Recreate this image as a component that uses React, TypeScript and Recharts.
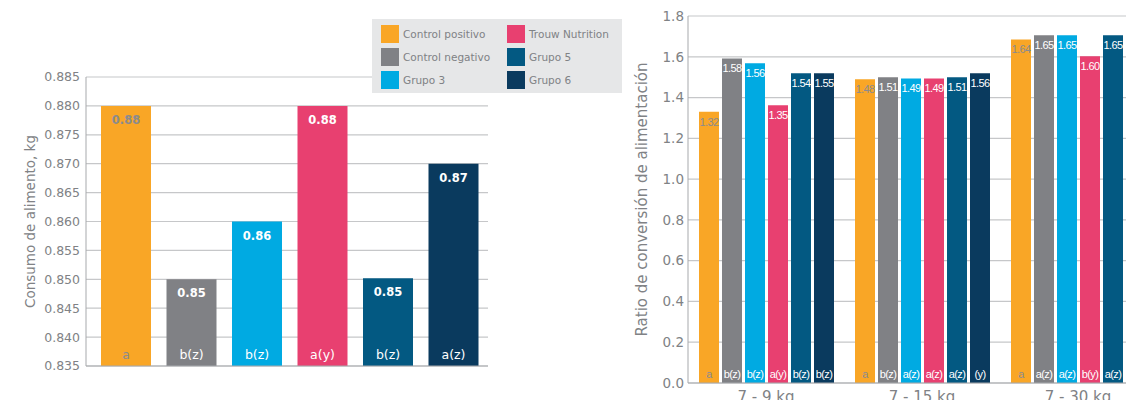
import { Bar, BarChart, CartesianGrid, Cell, LabelList, XAxis, YAxis } from "recharts";

const groups = ["Control positivo", "Control negativo", "Grupo 3", "Trouw Nutrition", "Grupo 5", "Grupo 6"];
const colors = ["#f9a626", "#808185", "#00aae2", "#e84070", "#035982", "#0a3a5e"];
const labelInk = ["#8a8b8e", "#ffffff", "#ffffff", "#ffffff", "#ffffff", "#ffffff"];

// left chart: consumo de alimento
const consumo = [0.88, 0.85, 0.86, 0.88, 0.8502, 0.87];
const consumoText = ["0.88", "0.85", "0.86", "0.88", "0.85", "0.87"];
const consumoLetters = ["a", "b(z)", "b(z)", "a(y)", "b(z)", "a(z)"];
const consumoTicks = [0.835, 0.84, 0.845, 0.85, 0.855, 0.86, 0.865, 0.87, 0.875, 0.88, 0.885];

// right chart: ratio de conversion, one array per group (3 periods)
const periods = ["7 - 9 kg", "7 - 15 kg", "7 - 30 kg"];
const ratio = [
  [1.33, 1.49, 1.685],
  [1.592, 1.5, 1.705],
  [1.568, 1.494, 1.705],
  [1.362, 1.494, 1.603],
  [1.519, 1.5, 1.705],
  [1.519, 1.519, 1.705],
];
const ratioText = [
  ["1.32", "1.48", "1.64"],
  ["1.58", "1.51", "1.65"],
  ["1.56", "1.49", "1.65"],
  ["1.35", "1.49", "1.60"],
  ["1.54", "1.51", "1.65"],
  ["1.55", "1.56", "1.65"],
];
const ratioLetters = [
  ["a", "a", "a"],
  ["b(z)", "b(z)", "a(z)"],
  ["b(z)", "a(z)", "a(z)"],
  ["a(y)", "a(z)", "b(y)"],
  ["b(z)", "a(z)", "a(z)"],
  ["b(z)", "(y)", ""],
];
const ratioTicks = [0, 0.2, 0.4, 0.6, 0.8, 1.0, 1.2, 1.4, 1.6, 1.8];

const FONT = "'DejaVu Sans', sans-serif";
const NARROW = "'Liberation Sans', Arial, sans-serif";
const GREY = "#808285";
const GRID = "#c6c7c9";

const consumoRows = groups.map((g, i) => ({
  name: g,
  value: consumo[i],
  text: consumoText[i],
  letter: consumoLetters[i],
}));

const ratioRows = periods.map((p, j) => {
  const row: Record<string, string | number> = { period: p };
  groups.forEach((_, i) => {
    row[`v${i}`] = ratio[i][j];
    row[`t${i}`] = ratioText[i][j];
    row[`l${i}`] = ratioLetters[i][j];
  });
  return row;
});

type Ink = string | ((i: number) => string);

const barText = (ink: Ink, fromTop: boolean, off: number, size: number, family: string, weight: number, spacing = 0) =>
  (props: any) => {
    const x = Number(props.x), y = Number(props.y), w = Number(props.width), h = Number(props.height);
    const fill = typeof ink === "function" ? ink(props.index) : ink;
    const ty = fromTop ? y + off : y + h - off;
    return (
      <text x={x + w / 2} y={ty} textAnchor="middle" dominantBaseline="central"
        fill={fill} fontSize={size} fontFamily={family} fontWeight={weight} letterSpacing={spacing}>
        {props.value}
      </text>
    );
  };

function Legend() {
  return (
    <div
      style={{
        position: "absolute", left: 372, top: 19, width: 250, height: 74,
        background: "#e6e7e8", boxSizing: "border-box", padding: "6px 0 0 9px",
        display: "grid", gridTemplateRows: "repeat(3, 23px)", gridAutoFlow: "column",
        gridTemplateColumns: "126px 120px", fontFamily: FONT, fontSize: 10.5, color: GREY,
      }}
    >
      {groups.map((g, i) => (
        <div key={g} style={{ display: "flex", alignItems: "center", height: 18 }}>
          <span style={{ width: 18, height: 18, background: colors[i], marginRight: 4, flex: "none" }} />
          {g}
        </div>
      ))}
    </div>
  );
}

function ConsumoChart() {
  return (
    <div style={{ position: "absolute", left: 0, top: 0 }}>
      <BarChart width={500} height={400} data={consumoRows} margin={{ top: 77, right: 12, bottom: 4, left: 0 }}>
        <CartesianGrid vertical={false} stroke={GRID} strokeWidth={1.2} />
        <XAxis dataKey="name" tick={false} tickLine={false} axisLine={{ stroke: "#a7a9ac" }} padding={{ left: 7, right: 2 }} />
        <YAxis
          width={86}
          domain={[0.835, 0.885]}
          ticks={consumoTicks}
          tickFormatter={(v: number) => v.toFixed(3)}
          tickLine={false}
          tickSize={4}
          tickMargin={2}
          axisLine={{ stroke: "#a7a9ac" }}
          tick={{ fontSize: 12.5, fill: GREY, fontFamily: FONT }}
          label={{ value: "Consumo de alimento, kg", angle: -90, position: "center", dx: -13, fill: GREY, fontSize: 13.5, fontFamily: FONT }}
        />
        <Bar dataKey="value" barSize={50} isAnimationActive={false}>
          {consumoRows.map((r, i) => (
            <Cell key={r.name} fill={colors[i]} />
          ))}
          <LabelList dataKey="text" content={barText((i) => labelInk[i], true, 14, 11.5, FONT, 700)} />
          <LabelList dataKey="letter" content={barText((i) => labelInk[i], false, 12, 12.5, FONT, 400)} />
        </Bar>
      </BarChart>
    </div>
  );
}

function RatioChart() {
  return (
    <div style={{ position: "absolute", left: 620, top: 0 }}>
      <BarChart width={560} height={420} data={ratioRows} margin={{ top: 16, right: 24, bottom: 7, left: 0 }} barGap={3}>
        <CartesianGrid vertical={false} stroke={GRID} strokeWidth={1.2} />
        <XAxis
          dataKey="period"
          tickLine={false}
          axisLine={{ stroke: "#a7a9ac" }}
          height={30}
          tick={{ fontSize: 15, fill: GREY, fontFamily: FONT }}
        />
        <YAxis
          width={68}
          domain={[0, 1.8]}
          ticks={ratioTicks}
          tickFormatter={(v: number) => v.toFixed(1)}
          tickLine={false}
          tickSize={2}
          tickMargin={2}
          axisLine={{ stroke: "#a7a9ac" }}
          tick={{ fontSize: 13.5, fill: GREY, fontFamily: FONT }}
          label={{ value: "Ratio de conversión de alimentación", angle: -90, position: "center", dx: -12, fill: GREY, fontSize: 15, fontFamily: FONT }}
        />
        {groups.map((g, i) => (
          <Bar key={g} dataKey={`v${i}`} name={g} fill={colors[i]} barSize={20} isAnimationActive={false}>
            <LabelList dataKey={`t${i}`} content={barText(labelInk[i], true, 10, 11, NARROW, 400, -0.6)} />
            <LabelList dataKey={`l${i}`} content={barText(labelInk[i], false, 9, 11, NARROW, 400, -0.6)} />
          </Bar>
        ))}
      </BarChart>
    </div>
  );
}

export default function App() {
  return (
    <div style={{ position: "fixed", left: 0, top: 0, width: 1126, height: 400, overflow: "hidden", background: "#fff" }}>
      <ConsumoChart />
      <RatioChart />
      <Legend />
    </div>
  );
}
